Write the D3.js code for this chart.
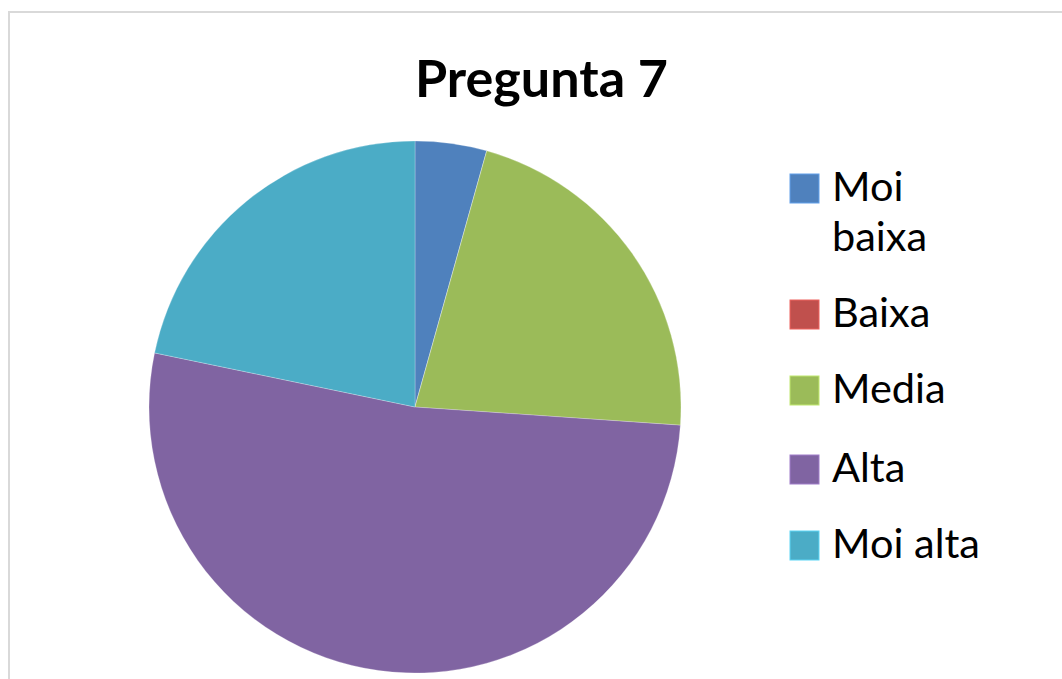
<!DOCTYPE html>
<html><head><meta charset="utf-8">
<script src="https://cdn.jsdelivr.net/npm/d3@7"></script>
<style>html,body{margin:0;padding:0;background:#fff;}svg{display:block;}</style>
</head><body>
<svg id="c" width="1062" height="679"></svg>
<script>
const title = "Pregunta 7";
const categories = ["Moi baixa", "Baixa", "Media", "Alta", "Moi alta"];
const values = [1, 0, 5, 12, 5];
const legendLines = [["Moi", "baixa"], ["Baixa"], ["Media"], ["Alta"], ["Moi alta"]];
const colors = ["#4F81BD", "#C0504D", "#9BBB59", "#8064A2", "#4BACC6"];

const svg = d3.select("#c");
svg.append("rect").attr("width", 1062).attr("height", 679).attr("fill", "#fff");
svg.append("path").attr("d", "M9,679 L9,12 L1062,12").attr("fill", "none")
  .attr("stroke", "#d9d9d9").attr("stroke-width", 2);

const font = "Lato, 'Open Sans', sans-serif";

const t = svg.append("text").text(title).attr("font-family", font).attr("font-weight", "bold")
  .attr("font-size", 48).attr("fill", "#000").attr("text-anchor", "middle")
  .attr("x", 541.5).attr("y", 97);
const tw = t.node().getComputedTextLength();
t.attr("font-size", 48 * 253 / tw);

const cx = 415, cy = 407, r = 266;
const color = d3.scaleOrdinal().domain(categories).range(colors);
const pie = d3.pie().sort(null).value(d => d.v);
const arc = d3.arc().innerRadius(0).outerRadius(r);
const data = categories.map((c, i) => ({c, v: values[i]}));
svg.append("g").attr("transform", `translate(${cx},${cy})`)
  .selectAll("path").data(pie(data)).join("path")
  .attr("d", arc).attr("fill", d => color(d.data.c))
  .attr("stroke", "rgba(255,255,255,0.35)").attr("stroke-width", 0.7);

const lg = svg.append("g");
const baselines = [201, 327, 403, 482, 558];
const fs = 41.5;
const lineGap = 50;
categories.forEach((c, i) => {
  const y = baselines[i];
  lg.append("rect").attr("x", 790).attr("y", y - 27).attr("width", 29).attr("height", 29)
    .attr("fill", color(c)).attr("stroke", d3.color(color(c)).brighter(0.6)).attr("stroke-width", 1);
  legendLines[i].forEach((line, j) => {
    lg.append("text").attr("font-family", font).attr("font-size", fs).attr("fill", "#000")
      .attr("x", 832).attr("y", y + j * lineGap).text(line);
  });
});
</script>
</body></html>
